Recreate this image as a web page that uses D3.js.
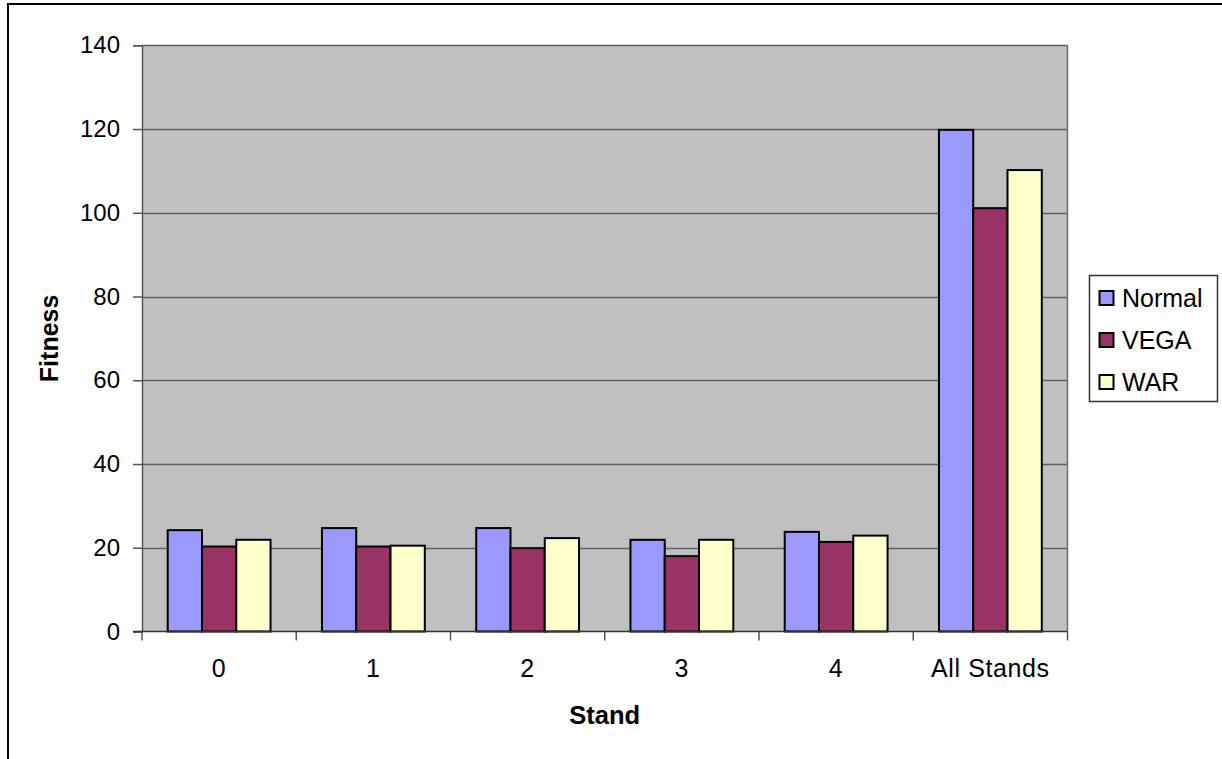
<!DOCTYPE html>
<html>
<head>
<meta charset="utf-8">
<script src="https://cdn.jsdelivr.net/npm/d3@7"></script>
<style>
  html, body { margin: 0; padding: 0; background: #fff; }
  svg { display: block; font-family: Arial, "Liberation Sans", sans-serif; }
</style>
</head>
<body>
<svg id="chart" width="1222" height="759"></svg>
<script>
// Category labels along the x axis
const categories = ["0", "1", "2", "3", "4", "All Stands"];
// Series names and their values per category
const seriesNames = ["Normal", "VEGA", "WAR"];
const normalValues = [24.2, 24.7, 24.7, 21.9, 23.8, 119.8];
const vegaValues   = [20.3, 20.3, 19.9, 18.0, 21.4, 101.1];
const warValues    = [21.9, 20.5, 22.3, 21.9, 22.9, 110.2];
const seriesColors = ["#9999FF", "#993366", "#FFFFCC"];
// Y axis ticks
const yTicks = [0, 20, 40, 60, 80, 100, 120, 140];

const seriesValues = [normalValues, vegaValues, warValues];

const svg = d3.select("#chart");

// Outer chart frame
svg.append("rect")
  .attr("x", 8).attr("y", 4)
  .attr("width", 1240).attr("height", 780)
  .attr("fill", "#fff").attr("stroke", "#000").attr("stroke-width", 2);

const plot = { left: 142, right: 1067.5, top: 45.3, bottom: 631.5 };

const y = d3.scaleLinear().domain([0, 140]).range([plot.bottom, plot.top]);
const x = d3.scaleBand().domain(categories).range([plot.left, plot.right]).padding(0);
const xInner = d3.scaleBand().domain(seriesNames).range([0, x.bandwidth()])
  .paddingInner(0).paddingOuter(0.75);

// Plot area background
svg.append("rect")
  .attr("x", plot.left).attr("y", plot.top)
  .attr("width", plot.right - plot.left).attr("height", plot.bottom - plot.top)
  .attr("fill", "#C0C0C0");

// Horizontal gridlines
svg.append("g")
  .selectAll("line")
  .data(yTicks.filter(d => d > 0))
  .join("line")
  .attr("x1", plot.left).attr("x2", plot.right)
  .attr("y1", d => Math.round(y(d)) + 0.5).attr("y2", d => Math.round(y(d)) + 0.5)
  .attr("stroke", "#5f5f5f").attr("stroke-width", 1.5);

// Right edge of plot area
svg.append("line")
  .attr("x1", plot.right).attr("x2", plot.right)
  .attr("y1", plot.top).attr("y2", plot.bottom)
  .attr("stroke", "#6f6f6f").attr("stroke-width", 1.5);

// Bars
const groups = svg.append("g")
  .selectAll("g")
  .data(categories)
  .join("g")
  .attr("transform", d => `translate(${x(d)},0)`);

groups.selectAll("rect")
  .data((c, i) => seriesNames.map((s, k) => ({ s, k, v: seriesValues[k][i] })))
  .join("rect")
  .attr("x", d => xInner(d.s))
  .attr("y", d => y(d.v))
  .attr("width", xInner.bandwidth())
  .attr("height", d => y(0) - y(d.v))
  .attr("fill", d => seriesColors[d.k])
  .attr("stroke", "#000").attr("stroke-width", 2);

// Y axis
const yAxis = svg.append("g")
  .attr("transform", `translate(${plot.left},0)`)
  .call(d3.axisLeft(y).tickValues(yTicks).tickSize(9).tickPadding(13));
yAxis.select(".domain").attr("stroke", "#555").attr("stroke-width", 1.5);
yAxis.selectAll(".tick line").attr("stroke", "#555").attr("stroke-width", 1.5);
yAxis.selectAll(".tick text")
  .attr("font-size", 24).attr("fill", "#000")
  .attr("font-family", "Arial, 'Liberation Sans', sans-serif");

// X axis: line along zero and ticks between categories
const xAxisG = svg.append("g");
xAxisG.append("line")
  .attr("x1", plot.left - 9).attr("x2", plot.right)
  .attr("y1", plot.bottom).attr("y2", plot.bottom)
  .attr("stroke", "#333").attr("stroke-width", 1.5);
const boundaries = categories.map(c => x(c)).concat([x(categories[categories.length - 1]) + x.bandwidth()]);
xAxisG.selectAll("line.tk")
  .data(boundaries)
  .join("line").attr("class", "tk")
  .attr("x1", d => d).attr("x2", d => d)
  .attr("y1", plot.bottom).attr("y2", plot.bottom + 9)
  .attr("stroke", "#555").attr("stroke-width", 1.5);
xAxisG.selectAll("text")
  .data(categories)
  .join("text")
  .attr("x", d => x(d) + x.bandwidth() / 2)
  .attr("y", 677)
  .attr("text-anchor", "middle")
  .attr("font-size", 25)
  .attr("letter-spacing", 0.6)
  .text(d => d);

// Axis titles
svg.append("text")
  .attr("x", (plot.left + plot.right) / 2).attr("y", 724)
  .attr("text-anchor", "middle")
  .attr("font-size", 25.5).attr("font-weight", "bold")
  .text("Stand");
svg.append("text")
  .attr("transform", `translate(58,${(plot.top + plot.bottom) / 2}) rotate(-90)`)
  .attr("text-anchor", "middle")
  .attr("font-size", 25).attr("font-weight", "bold")
  .text("Fitness");

// Legend
const legend = svg.append("g");
legend.append("rect")
  .attr("x", 1089.5).attr("y", 275.5)
  .attr("width", 128).attr("height", 126)
  .attr("fill", "#fff").attr("stroke", "#333").attr("stroke-width", 1.5);
const items = legend.selectAll("g.item")
  .data(seriesNames)
  .join("g").attr("class", "item")
  .attr("transform", (d, i) => `translate(0,${298 + i * 42})`);
items.append("rect")
  .attr("x", 1099.5).attr("y", -7)
  .attr("width", 14).attr("height", 14)
  .attr("fill", (d, i) => seriesColors[i])
  .attr("stroke", "#000").attr("stroke-width", 2);
items.append("text")
  .attr("x", 1122).attr("y", 0)
  .attr("dy", "0.36em")
  .attr("font-size", 25)
  .text(d => d);
</script>
</body>
</html>
